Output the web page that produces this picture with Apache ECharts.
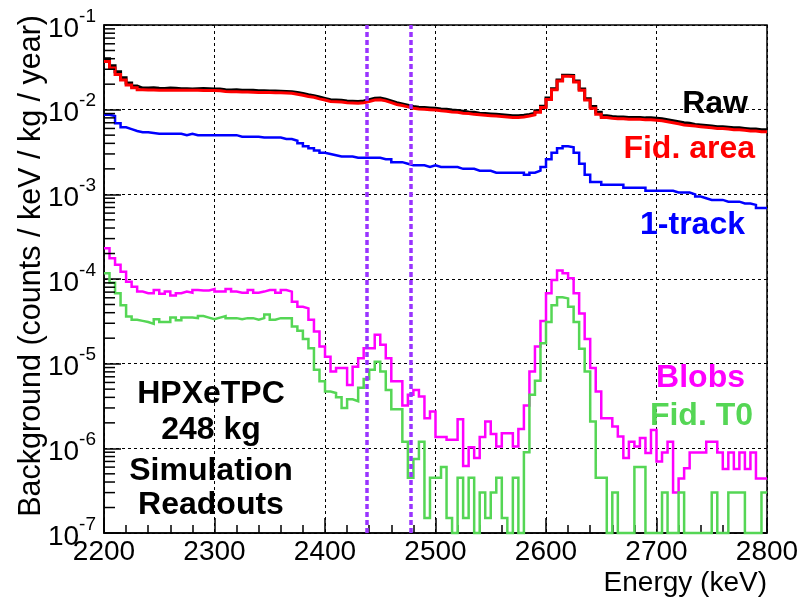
<!DOCTYPE html>
<html>
<head>
<meta charset="utf-8">
<title>HPXeTPC background</title>
<script src="https://cdn.jsdelivr.net/npm/echarts@6/dist/echarts.min.js"></script>
<style>
  html, body { margin: 0; padding: 0; background: #fff; }
  #chart { width: 802px; height: 602px; }
</style>
</head>
<body>
<div id="chart"></div>
<script>
// 5 keV bins from 2200 to 2800 keV, one value per bin (counts / keV / kg / year)
const E_START = 2200;
const BIN_WIDTH = 5;
const Y_MIN = 1e-7;
const Y_MAX = 1e-1;
const xTicks = [2200, 2300, 2400, 2500, 2600, 2700, 2800];
const roiEdges = [2438, 2478];

const raw = [
  0.040, 0.033, 0.028, 0.0238, 0.0206, 0.0190, 0.0180, 0.0180, 0.0181, 0.0179,
  0.0178, 0.0180, 0.0179, 0.0177, 0.0177, 0.0176, 0.0177, 0.0178, 0.0177, 0.0175,
  0.0175, 0.0172, 0.0171, 0.0172, 0.0170, 0.0169, 0.0169, 0.0167, 0.0167, 0.0166,
  0.0166, 0.0165, 0.0164, 0.0163, 0.0160, 0.0155, 0.0150, 0.0146, 0.0141, 0.0136,
  0.0131, 0.0130, 0.0129, 0.0127, 0.0126, 0.0125, 0.0127, 0.0131, 0.0136, 0.0137,
  0.0133, 0.0127, 0.0121, 0.0117, 0.0113, 0.0109, 0.0107, 0.0106, 0.0105, 0.0104,
  0.0102, 0.0101, 0.0099, 0.0098, 0.0096, 0.0094, 0.0093, 0.0091, 0.0090, 0.0089,
  0.0088, 0.0087, 0.0086, 0.0085, 0.0085, 0.0086, 0.0088, 0.0091, 0.0097, 0.0110,
  0.0137, 0.0177, 0.0224, 0.0255, 0.0254, 0.0218, 0.0176, 0.0135, 0.0109, 0.0093,
  0.0085, 0.0083, 0.0082, 0.0082, 0.0081, 0.0081, 0.0081, 0.0080, 0.0080, 0.0079,
  0.0078, 0.0076, 0.0074, 0.0072, 0.0070, 0.0069, 0.0067, 0.0066, 0.0065, 0.0064,
  0.0063, 0.0063, 0.0062, 0.0061, 0.0061, 0.0060, 0.0059, 0.0059, 0.0058, 0.0058,
];

const fidArea = [
  0.037, 0.031, 0.026, 0.0224, 0.0196, 0.0182, 0.0172, 0.0171, 0.0171, 0.0170,
  0.0170, 0.0170, 0.0170, 0.0169, 0.0169, 0.0169, 0.0169, 0.0168, 0.0168, 0.0168,
  0.0167, 0.0164, 0.0163, 0.0163, 0.0162, 0.0162, 0.0161, 0.0159, 0.0159, 0.0159,
  0.0158, 0.0158, 0.0157, 0.0156, 0.0152, 0.0148, 0.0143, 0.0140, 0.0134, 0.0130,
  0.0125, 0.0124, 0.0123, 0.0121, 0.0120, 0.0119, 0.0121, 0.0125, 0.0130, 0.0131,
  0.0127, 0.0121, 0.0115, 0.0112, 0.0108, 0.0104, 0.0102, 0.0101, 0.0100, 0.0099,
  0.0097, 0.0096, 0.0094, 0.0093, 0.0091, 0.0090, 0.0088, 0.0087, 0.0086, 0.0085,
  0.0084, 0.0083, 0.0082, 0.0081, 0.0081, 0.0082, 0.0084, 0.0087, 0.0093, 0.0106,
  0.0132, 0.0172, 0.0218, 0.0248, 0.0247, 0.0212, 0.0170, 0.0130, 0.0104, 0.0088,
  0.0081, 0.0079, 0.0078, 0.0078, 0.0077, 0.0077, 0.0077, 0.0076, 0.0076, 0.0075,
  0.0074, 0.0072, 0.0070, 0.0068, 0.0066, 0.0065, 0.0064, 0.0063, 0.0062, 0.0061,
  0.0060, 0.0060, 0.0059, 0.0058, 0.0058, 0.0057, 0.0056, 0.0056, 0.0055, 0.0055,
];

const oneTrack = [
  0.0087, 0.0084, 0.0069, 0.0062, 0.0059, 0.0056, 0.0054, 0.0054, 0.0053, 0.0052,
  0.0052, 0.0052, 0.0052, 0.0052, 0.0050, 0.0052, 0.0050, 0.0050, 0.0050, 0.0050,
  0.0050, 0.0050, 0.0050, 0.0050, 0.0048, 0.0048, 0.0048, 0.0048, 0.0047, 0.0047,
  0.0047, 0.0047, 0.0045, 0.0045, 0.0043, 0.0040, 0.0037, 0.0035, 0.0033, 0.0031,
  0.0030, 0.0029, 0.0028, 0.0028, 0.0028, 0.0027, 0.0027, 0.0027, 0.0027, 0.0027,
  0.0026, 0.0026, 0.0024, 0.0024, 0.0023, 0.0022, 0.0022, 0.0022, 0.0021, 0.0022,
  0.0021, 0.0021, 0.0021, 0.0021, 0.0020, 0.0020, 0.0020, 0.0019, 0.0019, 0.0019,
  0.0018, 0.0018, 0.0018, 0.0018, 0.0018, 0.0018, 0.0017, 0.0018, 0.0019, 0.0021,
  0.0026, 0.0031, 0.0035, 0.0037, 0.0036, 0.0031, 0.0023, 0.0017, 0.0014, 0.0014,
  0.0013, 0.0013, 0.0013, 0.0013, 0.0012, 0.0012, 0.0012, 0.0012, 0.0011, 0.0011,
  0.0011, 0.0011, 0.0011, 0.00105, 0.00105, 0.00105, 0.0010, 0.00094, 0.00090, 0.00086,
  0.00086, 0.00086, 0.00082, 0.00082, 0.00082, 0.00078, 0.00078, 0.00075, 0.00069, 0.00069,
];

const blobs = [
  2.3e-4, 1.76e-4, 1.47e-4, 1.22e-4, 9.3e-5, 8.1e-5, 7.1e-5, 6.8e-5, 6.8e-5, 7.4e-5,
  6.7e-5, 7.1e-5, 6.4e-5, 6.8e-5, 7.1e-5, 6.9e-5, 7.4e-5, 7.3e-5, 7.3e-5, 7.6e-5,
  7.1e-5, 7.1e-5, 7.6e-5, 7.1e-5, 6.9e-5, 6.9e-5, 7.4e-5, 6.9e-5, 7.1e-5, 7.4e-5,
  7.4e-5, 6.9e-5, 7.4e-5, 7.1e-5, 5.4e-5, 4.7e-5, 4.5e-5, 3.3e-5, 2.4e-5, 1.6e-5,
  1.21e-5, 8.1e-6, 8.9e-6, 8.9e-6, 5.6e-6, 9.2e-6, 1.16e-5, 1.52e-5, 1.52e-5, 2.19e-5,
  1.67e-5, 1.16e-5, 6.2e-6, 6.2e-6, 3.2e-6, 4.3e-6, 4.9e-6, 4.1e-6, 2.27e-6, 2.72e-6,
  1.36e-6, 1.36e-6, 1.26e-6, 1.26e-6, 2.21e-6, 6.2e-7, 1.03e-6, 7.7e-7, 1.36e-6, 2.07e-6,
  1.48e-6, 1.05e-6, 1.51e-6, 1.51e-6, 1.05e-6, 1.69e-6, 3.2e-6, 8.1e-6, 1.6e-5, 3.2e-5,
  6.8e-5, 9.7e-5, 1.26e-4, 1.17e-4, 1.02e-4, 6.8e-5, 3.9e-5, 1.95e-5, 8.9e-6, 4.7e-6,
  2.27e-6, 2.27e-6, 1.81e-6, 1.38e-6, 7.7e-7, 1.2e-6, 1.05e-6, 1.32e-6, 8.8e-7, 1.65e-6,
  7.0e-7, 8.9e-7, 1.2e-6, 3.0e-7, 4.4e-7, 5.8e-7, 8.9e-7, 8.9e-7, 8.9e-7, 1.2e-6,
  1.2e-6, 8.9e-7, 5.7e-7, 8.9e-7, 5.7e-7, 8.9e-7, 5.7e-7, 8.9e-7, 4.4e-7, 4.4e-7,
];

// empty bins are 0 and sit on the bottom axis
const fidT0 = [
  1.17e-4, 9.0e-5, 6.8e-5, 4.9e-5, 3.6e-5, 3.3e-5, 3.2e-5, 3.1e-5, 2.95e-5, 3.35e-5,
  3.1e-5, 3.1e-5, 3.5e-5, 3.25e-5, 3.5e-5, 3.5e-5, 3.45e-5, 3.65e-5, 3.5e-5, 3.35e-5,
  3.5e-5, 3.65e-5, 3.45e-5, 3.45e-5, 3.35e-5, 3.45e-5, 3.45e-5, 3.3e-5, 3.45e-5, 3.8e-5,
  3.3e-5, 3.45e-5, 3.45e-5, 3.45e-5, 2.75e-5, 2.45e-5, 1.95e-5, 1.52e-5, 8.5e-6, 6.2e-6,
  4.7e-6, 4.5e-6, 4.0e-6, 3.0e-6, 3.8e-6, 3.6e-6, 5.2e-6, 6.6e-6, 8.5e-6, 1.05e-5,
  8.1e-6, 4.9e-6, 2.9e-6, 2.9e-6, 1.2e-6, 4.5e-7, 7.5e-7, 1.2e-6, 1.5e-7, 4.5e-7,
  4.5e-7, 6e-7, 1.5e-7, 0, 4.5e-7, 1.5e-7, 4.5e-7, 0, 3e-7, 1.5e-7,
  3e-7, 4.5e-7, 1.5e-7, 0, 4.5e-7, 0, 9e-7, 4.3e-6, 6.3e-6, 1.74e-5,
  3.1e-5, 4.9e-5, 6.1e-5, 5.9e-5, 4.7e-5, 3.1e-5, 1.5e-5, 8.1e-6, 2.07e-6, 4.5e-7,
  4.5e-7, 0, 3e-7, 0, 0, 0, 6e-7, 6e-7, 0, 0,
  0, 3e-7, 0, 0, 3e-7, 0, 0, 0, 0, 0,
  3e-7, 0, 0, 3e-7, 3e-7, 3e-7, 0, 0, 0, 3e-7,
];

const FONT = '"Liberation Sans", Arial, Helvetica, sans-serif';

// minor ticks of the log axis at 2..9 x 10^k
const yMinorTicks = [];
for (let k = -7; k < -1; k++) {
  for (let m = 2; m <= 9; m++) yMinorTicks.push(m * Math.pow(10, k));
}

function histData(values) {
  const points = values.map((v, i) => [E_START + i * BIN_WIDTH, v > 0 ? v : Y_MIN]);
  const last = points[points.length - 1][1];
  points.push([E_START + values.length * BIN_WIDTH, last]);
  return points;
}

function histSeries(name, values, color, width, extra) {
  return Object.assign({
    name,
    type: 'line',
    step: 'end',
    data: histData(values),
    showSymbol: false,
    symbol: 'none',
    clip: false,
    animation: false,
    lineStyle: { color, width, join: 'miter' },
  }, extra || {});
}

// short ticks drawn inward from the left axis at the log minor tick values
function minorTickSeries() {
  return {
    type: 'custom',
    silent: true,
    animation: false,
    clip: false,
    z: 5,
    data: yMinorTicks.map((v) => [E_START, v]),
    renderItem: (params, api) => {
      const p = api.coord([api.value(0), api.value(1)]);
      return {
        type: 'line',
        shape: { x1: p[0], y1: p[1], x2: p[0] + 11, y2: p[1] },
        style: { stroke: '#000', lineWidth: 1.5 },
      };
    },
  };
}

const chart = echarts.init(document.getElementById('chart'), null, { renderer: 'canvas' });

const labelText = (text, color, x, y, align) => ({
  type: 'text',
  x,
  y,
  z: 100,
  style: {
    text,
    fill: color,
    font: `bold 32px ${FONT}`,
    align: align || 'right',
    verticalAlign: 'middle',
  },
});

chart.setOption({
  backgroundColor: '#fff',
  animation: false,
  grid: {
    left: 104, right: 35, top: 25, bottom: 69,
    show: true, borderColor: '#000', borderWidth: 1.5, backgroundColor: 'transparent',
  },
  xAxis: {
    type: 'value',
    min: xTicks[0],
    max: xTicks[xTicks.length - 1],
    interval: 100,
    axisLine: { lineStyle: { color: '#000', width: 1.5 } },
    axisTick: { inside: true, length: 15, lineStyle: { color: '#000', width: 1.5 } },
    minorTick: { show: true, splitNumber: 5, length: 8, lineStyle: { color: '#000', width: 1.5 } },
    axisLabel: { color: '#000', fontFamily: FONT, fontSize: 28, margin: 5, formatter: (v) => String(v) },
    splitLine: { show: true, lineStyle: { color: '#000', width: 1, type: [3, 3] } },
  },
  yAxis: {
    type: 'log',
    logBase: 10,
    min: Y_MIN,
    max: Y_MAX,
    splitNumber: 6,
    axisLine: { lineStyle: { color: '#000', width: 1.5 } },
    axisTick: { inside: true, length: 17, lineStyle: { color: '#000', width: 1.5 } },
    axisLabel: {
      margin: 8,
      formatter: (v) => `{b|10}{e|${Math.round(Math.log10(v))}}`,
      rich: {
        b: { fontFamily: FONT, fontSize: 28, color: '#000', verticalAlign: 'bottom', lineHeight: 36 },
        e: { fontFamily: FONT, fontSize: 19, color: '#000', verticalAlign: 'top', lineHeight: 36 },
      },
    },
    splitLine: { show: true, lineStyle: { color: '#000', width: 1, type: [3, 3] } },
  },
  series: [
    minorTickSeries(),
    histSeries('Raw', raw, '#000000', 3),
    histSeries('Fid. area', fidArea, '#ff0000', 3),
    histSeries('1-track', oneTrack, '#0000ff', 2.5),
    histSeries('Blobs', blobs, '#ff00ff', 2.5),
    histSeries('Fid. T0', fidT0, '#55d655', 2.5, {
      markLine: {
        silent: true,
        symbol: ['none', 'none'],
        label: { show: false },
        animation: false,
        lineStyle: { color: '#9933ff', width: 3.5, type: [5, 3] },
        data: roiEdges.map((x) => ({ xAxis: x })),
      },
    }),
  ],
  graphic: [
    labelText('Raw', '#000000', 748, 104),
    labelText('Fid. area', '#ff0000', 755, 149),
    labelText('1-track', '#0000ff', 745, 225),
    labelText('Blobs', '#ff00ff', 745, 378),
    labelText('Fid. T0', '#55d655', 753, 416),
    labelText('HPXeTPC', '#000000', 211, 394, 'center'),
    labelText('248 kg', '#000000', 211, 430, 'center'),
    labelText('Simulation', '#000000', 211, 471, 'center'),
    labelText('Readouts', '#000000', 211, 505, 'center'),
    {
      type: 'text',
      x: 767,
      y: 583,
      style: { text: 'Energy (keV)', fill: '#000', font: `28px ${FONT}`, align: 'right', verticalAlign: 'middle' },
    },
    {
      type: 'text',
      x: 32,
      y: 15,
      rotation: Math.PI / 2,
      style: {
        text: 'Background (counts / keV / kg / year)',
        fill: '#000',
        font: `30.5px ${FONT}`,
        align: 'right',
        verticalAlign: 'middle',
      },
    },
  ],
});

window.addEventListener('resize', () => chart.resize());
</script>
</body>
</html>
